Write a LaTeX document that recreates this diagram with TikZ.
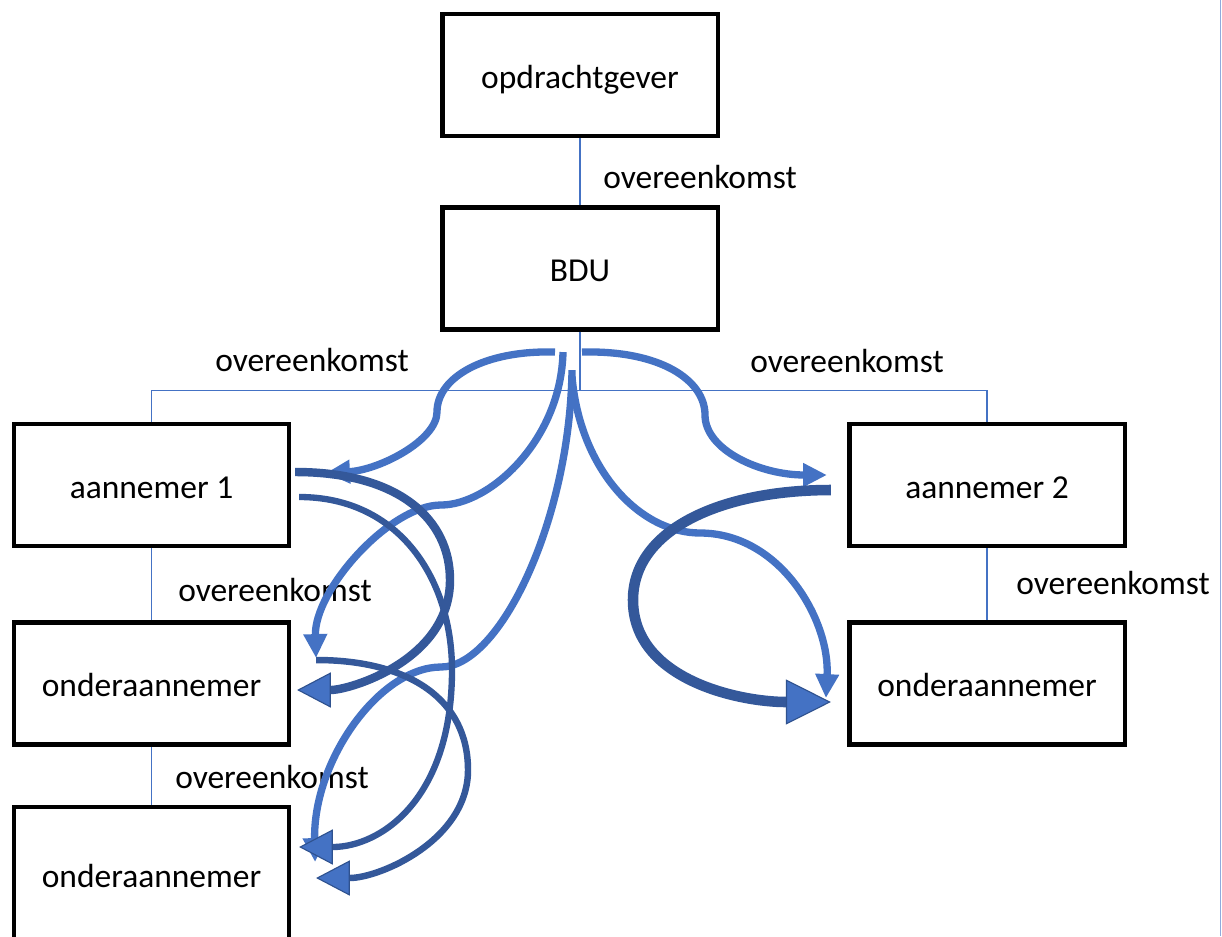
\documentclass[tikz,border=0pt]{standalone}
\usepackage{fontspec}
\setmainfont{Carlito}
\usetikzlibrary{arrows.meta,calc}
\definecolor{lblue}{HTML}{4472C4}
\definecolor{dblue}{HTML}{34589A}
\definecolor{dedge}{HTML}{2F528F}
\definecolor{frame}{HTML}{8FAADC}
\begin{document}
\begin{tikzpicture}[x=0.025cm,y=-0.025cm,
  every node/.style={font=\fontsize{23.8}{28}\selectfont},
  box/.style={draw=black, line width=2.9pt, minimum width=6.875cm, minimum height=3.05cm, inner sep=0pt, fill=white, text height=19pt, text depth=0.4pt},
  tall/.style={box, minimum height=3.375cm},
  conn/.style={draw=lblue, line width=0.8pt},
  lbl/.style={anchor=west, inner sep=0pt},
  larrow/.style={draw=lblue, line width=5.2pt, -{Triangle[length=17pt,width=16pt]}},
  darrow/.style={draw=dblue, line width=#1},
  dhead/.style={-{Triangle[length=24pt,width=25pt,fill=lblue,color=dedge,line width=0.8pt]}},
  bighead/.style={-{Triangle[length=32pt,width=32pt,fill=lblue,color=dedge,line width=0.8pt]}}
]
\useasboundingbox (0,0) rectangle (1222,936);
\clip (0,0) rectangle (1222,936);
\fill[white] (0,0) rectangle (1222,936);
\draw[frame, line width=1.1pt] (1220.5,0) -- (1220.5,936);

% boxes
\node[box] (op)  at (580,75)    {opdrachtgever};
\node[box] (bdu) at (580,268.5) {BDU};
\node[box] (a1)  at (151.5,485) {aannemer 1};
\node[box] (a2)  at (987,485)   {aannemer 2};
\node[box] (o1)  at (151.5,683.5) {onderaannemer};
\node[box] (o2)  at (987,683.5) {onderaannemer};
\node[tall] (o3) at (151.5,874.5) {onderaannemer};

% thin connectors
\draw[conn] (op.south) -- (bdu.north);
\draw[conn] (bdu.south) -- ++(0,58.5) coordinate (j);
\draw[conn] (j) -| (a1.north);
\draw[conn] (j) -| (a2.north);
\draw[conn] (a1.south) -- (o1.north);
\draw[conn] (o1.south) -- (o3.north);
\draw[conn] (a2.south) -- (o2.north);

% labels
\node[lbl] (l1) at (603,177) {overeenkomst};
\node[lbl] (l2) at (215,360) {overeenkomst};
\node[lbl] (l3) at (750,361) {overeenkomst};
\node[lbl] (l4) at (178,590) {overeenkomst};
\node[lbl] (l5) at (175,777) {overeenkomst};
\node[lbl] (l6) at (1016,583) {overeenkomst};

% named end points of curved arrows
\coordinate (s1) at ($(bdu.south)+(-25,20.5)$);
\coordinate (s2) at ($(bdu.south)+(-17,20.5)$);
\coordinate (s3) at ($(bdu.south)+(-8,38.5)$);
\coordinate (s4) at ($(bdu.south)+(2,20.5)$);
\coordinate (s5) at ($(bdu.south)+(-8,45)$);
\coordinate (t1) at ($(a1.east)+(35,-12)$);
\coordinate (t2) at ($(o1.east)+(25,-25.5)$);
\coordinate (t3) at ($(o3.east)+(24,-12.5)$);
\coordinate (t4) at ($(a2.west)+(-20.5,-10)$);
\coordinate (t5) at ($(o2.west)+(-21.5,14.5)$);
\coordinate (d1s) at ($(a1.east)+(4,-13)$);
\coordinate (d1t) at ($(o1.east)+(6,6.5)$);
\coordinate (d2s) at ($(a1.east)+(8,12)$);
\coordinate (d2t) at ($(o3.east)+(8,-27.5)$);
\coordinate (d3s) at ($(o1.east)+(25,-23.5)$);
\coordinate (d3t) at ($(o3.east)+(25,3.5)$);
\coordinate (d4s) at ($(a2.west)+(-16.5,5)$);
\coordinate (d4t) at ($(o2.west)+(-16.5,18.5)$);

% light arrows from BDU
\draw[larrow] (s1) .. controls (485,350) and (437,377) .. (437,412)
                   .. controls (437,440) and (380,470) .. (t1);
\draw[larrow] (s2) .. controls (561,440) and (490,505) .. (441,505)
                   .. controls (390,505) and (314,590) .. (t2);
\draw[larrow] (s3) .. controls (570,520) and (500,667) .. (441,667)
                   .. controls (380,667) and (313,760) .. (t3);
\draw[larrow] (s4) .. controls (660,350) and (705,380) .. (705,415)
                   .. controls (705,450) and (760,475) .. (t4);
\draw[larrow] (s5) .. controls (580,470) and (640,533) .. (700,533)
                   .. controls (780,533) and (830,620) .. (t5);

% dark arrows between contractors
\draw[darrow=6pt, dhead] (d1s) .. controls (400,472) and (450,520) .. (450,580)
                   .. controls (450,660) and (350,690) .. (d1t);
\draw[darrow=4.5pt, dhead] (d2s) .. controls (400,497) and (452,580) .. (452,670)
                   .. controls (452,800) and (380,847) .. (d2t);
\draw[darrow=4.6pt, dhead] (d3s) .. controls (410,660) and (468,700) .. (468,770)
                   .. controls (468,840) and (380,878) .. (d3t);
\draw[darrow=7.5pt, bighead] (d4s) .. controls (720,490) and (633,530) .. (633,600)
                   .. controls (633,680) and (740,702) .. (d4t);
\end{tikzpicture}
\end{document}
